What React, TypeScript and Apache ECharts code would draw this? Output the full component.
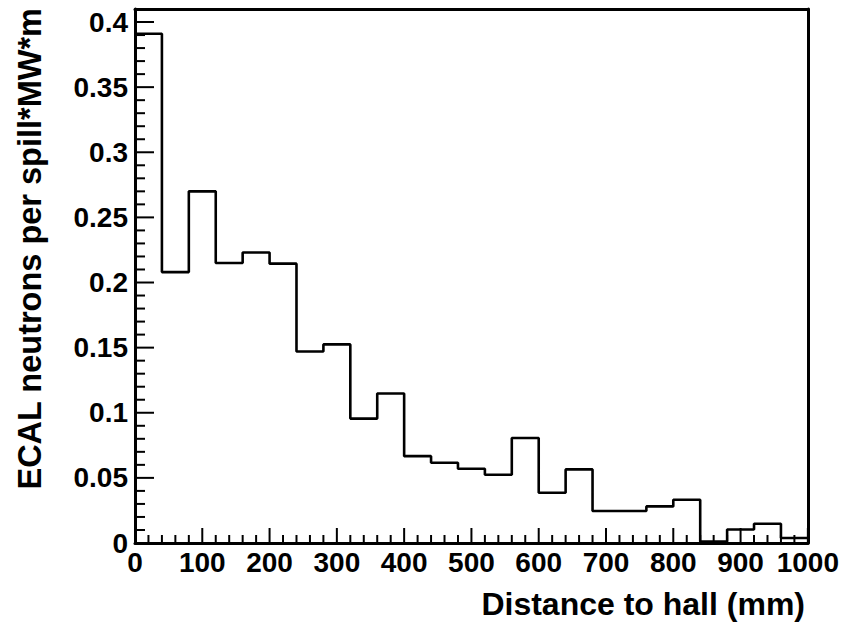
import React, { useEffect, useRef } from "react";
import * as echarts from "echarts";

// Histogram: ECAL neutrons per spill*MW*m vs distance to hall, 25 bins of 40 mm
const binWidth = 40;
const xMin = 0;
const xMax = 1000;
const yMin = 0;
const yMax = 0.41;
const binValues = [
  0.391, 0.208, 0.270, 0.215, 0.223, 0.2145, 0.147, 0.1525, 0.0955, 0.1148,
  0.0667, 0.0616, 0.057, 0.0524, 0.0806, 0.0386, 0.0565, 0.0246, 0.0246, 0.0281,
  0.0332, 0.0012, 0.0104, 0.0148, 0.0038,
];
// axis ticks (major), minor ticks subdivide each major interval into 5
const xMajorTicks = [0, 100, 200, 300, 400, 500, 600, 700, 800, 900, 1000];
const yMajorTicks = [0, 0.05, 0.1, 0.15, 0.2, 0.25, 0.3, 0.35, 0.4];
const minorDivisions = 5;
const xTitle = "Distance to hall (mm)";
const yTitle = "ECAL neutrons per spill*MW*m";

const FONT = "'Liberation Sans', Arial, Helvetica, sans-serif";

function withMinor(major: number[], max: number): [number, number][] {
  const out: [number, number][] = [];
  const step = major[1] - major[0];
  for (let i = 0; i < major.length; i++) {
    out.push([major[i], 1]);
    for (let k = 1; k < minorDivisions; k++) {
      const v = +(major[i] + (k * step) / minorDivisions).toFixed(6);
      if (v < max) out.push([v, 0]);
    }
  }
  return out;
}

export default function App() {
  const ref = useRef<HTMLDivElement>(null);

  useEffect(() => {
    if (!ref.current) return;
    const chart = echarts.init(ref.current, undefined, { renderer: "svg" });

    const stepData: [number, number][] = binValues.map((v, i) => [xMin + i * binWidth, v]);
    stepData.push([xMax, binValues[binValues.length - 1]]);

    const xTickData = withMinor(xMajorTicks, xMax);
    const yTickData = withMinor(yMajorTicks, yMax);

    const frameLine = { show: true, onZero: false, lineStyle: { color: "#000", width: 3 } };
    const labelStyle = { color: "#000", fontFamily: FONT, fontWeight: "bold", fontSize: 28 };

    chart.setOption({
      animation: false,
      backgroundColor: "#ffffff",
      grid: { left: 135, right: 34, top: 9, bottom: 82 },
      xAxis: [
        {
          type: "value",
          position: "bottom",
          min: xMin,
          max: xMax,
          interval: 100,
          axisLine: frameLine,
          axisTick: { show: false },
          minorTick: { show: false },
          splitLine: { show: false },
          axisLabel: { ...labelStyle, margin: 5, formatter: (v: number) => String(v) },
        },
        {
          type: "value",
          position: "top",
          min: xMin,
          max: xMax,
          axisLine: frameLine,
          axisTick: { show: false },
          axisLabel: { show: false },
          splitLine: { show: false },
        },
      ],
      yAxis: [
        {
          type: "value",
          position: "left",
          min: yMin,
          max: yMax,
          interval: 0.05,
          axisLine: frameLine,
          axisTick: { show: false },
          minorTick: { show: false },
          splitLine: { show: false },
          axisLabel: { ...labelStyle, margin: 7, showMaxLabel: false },
        },
        {
          type: "value",
          position: "right",
          min: yMin,
          max: yMax,
          axisLine: frameLine,
          axisTick: { show: false },
          axisLabel: { show: false },
          splitLine: { show: false },
        },
      ],
      graphic: [
        {
          type: "text",
          x: 30,
          y: 8,
          rotation: Math.PI / 2,
          style: {
            text: yTitle,
            fill: "#000",
            font: `bold 32.5px ${FONT}`,
            align: "right",
            verticalAlign: "middle",
          },
        },
        {
          type: "text",
          x: 805,
          y: 604,
          style: {
            text: xTitle,
            fill: "#000",
            font: `bold 32px ${FONT}`,
            align: "right",
            verticalAlign: "middle",
          },
        },
      ],
      series: [
        {
          type: "line",
          step: "end",
          xAxisIndex: 0,
          yAxisIndex: 0,
          data: stepData,
          symbol: "none",
          lineStyle: { color: "#000", width: 2.6 },
          clip: true,
          z: 2,
        },
        {
          type: "custom",
          name: "xTicks",
          xAxisIndex: 0,
          yAxisIndex: 0,
          clip: false,
          silent: true,
          z: 5,
          data: xTickData,
          renderItem: (_p: any, api: any) => {
            const v = api.value(0);
            const major = api.value(1) === 1;
            const pt = api.coord([v, yMin]);
            return {
              type: "line",
              shape: { x1: pt[0], y1: pt[1], x2: pt[0], y2: pt[1] - (major ? 15 : 8) },
              style: { stroke: "#000", lineWidth: 2 },
            };
          },
        },
        {
          type: "custom",
          name: "yTicks",
          xAxisIndex: 0,
          yAxisIndex: 0,
          clip: false,
          silent: true,
          z: 5,
          encode: { x: 1, y: 0 },
          data: yTickData,
          renderItem: (_p: any, api: any) => {
            const v = api.value(0);
            const major = api.value(1) === 1;
            const pt = api.coord([xMin, v]);
            return {
              type: "line",
              shape: { x1: pt[0], y1: pt[1], x2: pt[0] + (major ? 19 : 10), y2: pt[1] },
              style: { stroke: "#000", lineWidth: 2 },
            };
          },
        },
      ],
    });

    return () => chart.dispose();
  }, []);

  return (
    <div
      ref={ref}
      style={{ position: "fixed", left: 0, top: 0, width: 842, height: 625, background: "#fff" }}
    />
  );
}
